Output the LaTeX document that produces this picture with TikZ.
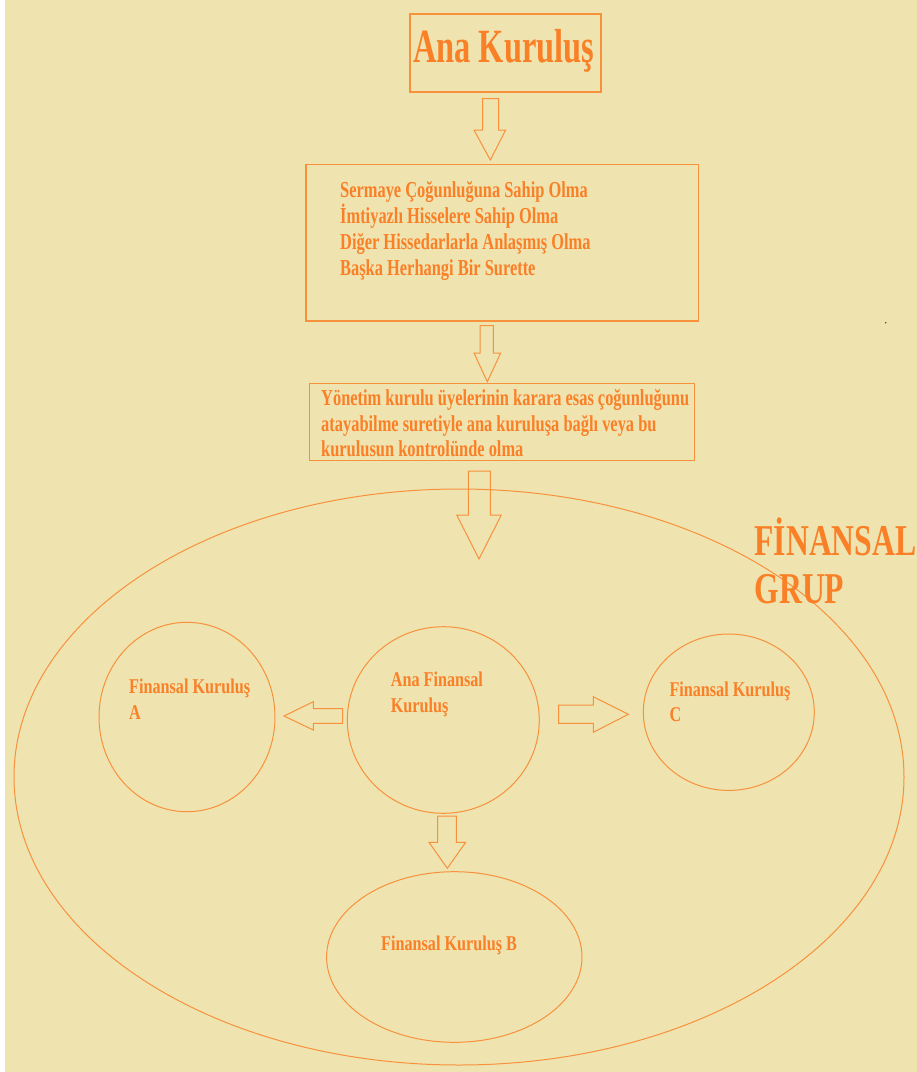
\documentclass[tikz,border=0pt]{standalone}
\usepackage{fontspec}
\usetikzlibrary{shapes.geometric}
\newfontfamily\ttlfont[FakeStretch=0.68]{Liberation Serif}
\newfontfamily\txtfont[FakeStretch=0.72]{Liberation Serif}
\newfontfamily\smfont[FakeStretch=0.77]{Liberation Serif}
\definecolor{bgc}{RGB}{239,227,175}
\definecolor{lnc}{RGB}{248,145,60}
\definecolor{txc}{RGB}{250,128,40}
\begin{document}
\begin{tikzpicture}[x=1pt,y=-1pt,
  boxn/.style={draw=lnc, line width=1.2pt, rectangle, inner sep=0pt},
  circn/.style={draw=lnc, line width=1pt, ellipse, inner sep=0pt},
  blk/.style={draw=lnc, line width=1pt, line join=miter},
  lbl/.style={text=txc, anchor=base west, inner sep=0pt},
  ttl/.style={lbl, font=\ttlfont\bfseries\fontsize{47.7pt}{50pt}\selectfont},
  big/.style={lbl, font=\txtfont\bfseries\fontsize{44pt}{46pt}\selectfont},
  mid/.style={lbl, font=\txtfont\bfseries\fontsize{22.8pt}{26pt}\selectfont},
  sml/.style={lbl, font=\smfont\bfseries\fontsize{21pt}{26pt}\selectfont}]
\useasboundingbox (0,0) rectangle (917,1072);
\fill[white] (0,0) rectangle (917,1072);
\fill[bgc] (5,0) rectangle (917,1072);

% boxes
\node[boxn, minimum width=191pt, minimum height=78pt] (topbox) at (505.5,53) {};
\node[boxn, minimum width=392.7pt, minimum height=156.3pt] (critbox) at (502.35,242.85) {};
\node[boxn, minimum width=385pt, minimum height=77.4pt] (ctrlbox) at (501.8,422) {};

% texts in boxes
\node[ttl] (ttltext) at (413,62) {Ana Kuruluş};
\node[mid] (c1) at (340,197.7) {Sermaye Çoğunluğuna Sahip Olma};
\node[mid] (c2) at (340,223) {İmtiyazlı Hisselere Sahip Olma};
\node[mid] (c3) at (340,249.3) {Diğer Hissedarlarla Anlaşmış Olma};
\node[mid] (c4) at (340,275.3) {Başka Herhangi Bir Surette};
\node[mid] (k1) at (321,405) {Yönetim kurulu üyelerinin karara esas çoğunluğunu};
\node[mid] (k2) at (321,431) {atayabilme suretiyle ana kuruluşa bağlı veya bu};
\node[mid] (k3) at (321,456.7) {kurulusun kontrolünde olma};

% group ellipse and circles
\node[circn, minimum width=890pt, minimum height=576pt] (group) at (459,777) {};
\node[circn, minimum width=176pt, minimum height=189.4pt] (fa) at (187,717) {};
\node[circn, minimum width=192pt, minimum height=186.6pt] (anaf) at (443.3,720) {};
\node[circn, minimum width=171pt, minimum height=156.4pt] (fc) at (728.8,712.2) {};
\node[circn, minimum width=255.4pt, minimum height=170.6pt] (fb) at (454.3,957) {};

\node[big] (g1) at (754.3,555) {FİNANSAL};
\node[big] (g2) at (754.3,603.3) {GRUP};

\node[sml] (fa1) at (129,693.3) {Finansal Kuruluş};
\node[sml] (fa2) at (129,719.3) {A};
\node[sml] (an1) at (390.7,686.7) {Ana Finansal};
\node[sml] (an2) at (390.7,712.3) {Kuruluş};
\node[sml] (fc1) at (669.3,696) {Finansal Kuruluş};
\node[sml] (fc2) at (669.3,721.7) {C};
\node[sml] (fb1) at (381,950) {Finansal Kuruluş B};

% block arrows (down)
\draw[blk] (482.7,98.7) -- (498.7,98.7) -- (498.7,130) -- (505.7,130) -- (490.3,160)
  -- (474,130) -- (482.7,130) -- cycle;
\draw[blk] (480,325.7) -- (493.3,325.7) -- (493.3,353) -- (500.7,353) -- (487.3,381.7)
  -- (474,353) -- (480,353) -- cycle;
\draw[blk] (468.3,471) -- (490.3,471) -- (490.3,515) -- (501.3,515) -- (479,559)
  -- (456.7,515) -- (468.3,515) -- cycle;
\draw[blk] (437.7,816) -- (456.3,816) -- (456.3,842.3) -- (465.7,842.3) -- (447.3,868.3)
  -- (429,842.3) -- (437.7,842.3) -- cycle;
% left arrow
\draw[blk] (342.7,708.7) -- (342.7,723.3) -- (313.3,723.3) -- (313.3,730) -- (284,716)
  -- (313.3,701.7) -- (313.3,708.7) -- cycle;
% right arrow
\draw[blk] (558.7,705) -- (558.7,723.3) -- (593.3,723.3) -- (593.3,732.3) -- (628.3,714.3)
  -- (593.3,696.7) -- (593.3,705) -- cycle;

\fill[black!70] (885.7,322.7) circle (0.9);
\end{tikzpicture}
\end{document}
